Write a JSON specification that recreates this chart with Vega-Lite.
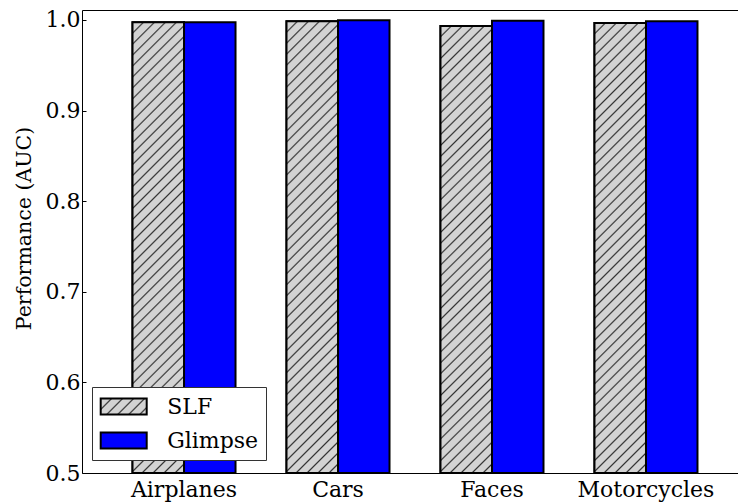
{
  "$schema": "https://vega.github.io/schema/vega-lite/v6.json",
  "autosize": "none",
  "padding": {"left": 82, "top": 10, "right": 0, "bottom": 31},
  "width": 666,
  "height": 463,
  "background": "white",
  "config": {
    "view": {"stroke": "#000", "strokeWidth": 1},
    "font": "DejaVu Serif, serif"
  },
  "params": [
    {"name": "hs", "value": [
      {"offset":0,"color":"#333"},{"offset":0.003,"color":"#d3d3d3"},{"offset":0.017,"color":"#d3d3d3"},
      {"offset":0.02,"color":"#333"},{"offset":0.023,"color":"#d3d3d3"},{"offset":0.037,"color":"#d3d3d3"},
      {"offset":0.04,"color":"#333"},{"offset":0.043,"color":"#d3d3d3"},{"offset":0.057,"color":"#d3d3d3"},
      {"offset":0.06,"color":"#333"},{"offset":0.063,"color":"#d3d3d3"},{"offset":0.077,"color":"#d3d3d3"},
      {"offset":0.08,"color":"#333"},{"offset":0.083,"color":"#d3d3d3"},{"offset":0.097,"color":"#d3d3d3"},
      {"offset":0.10,"color":"#333"},{"offset":0.103,"color":"#d3d3d3"},{"offset":0.117,"color":"#d3d3d3"},
      {"offset":0.12,"color":"#333"},{"offset":0.123,"color":"#d3d3d3"},{"offset":0.137,"color":"#d3d3d3"},
      {"offset":0.14,"color":"#333"},{"offset":0.143,"color":"#d3d3d3"},{"offset":0.157,"color":"#d3d3d3"},
      {"offset":0.16,"color":"#333"},{"offset":0.163,"color":"#d3d3d3"},{"offset":0.177,"color":"#d3d3d3"},
      {"offset":0.18,"color":"#333"},{"offset":0.183,"color":"#d3d3d3"},{"offset":0.197,"color":"#d3d3d3"},
      {"offset":0.20,"color":"#333"},{"offset":0.203,"color":"#d3d3d3"},{"offset":0.217,"color":"#d3d3d3"},
      {"offset":0.22,"color":"#333"},{"offset":0.223,"color":"#d3d3d3"},{"offset":0.237,"color":"#d3d3d3"},
      {"offset":0.24,"color":"#333"},{"offset":0.243,"color":"#d3d3d3"},{"offset":0.257,"color":"#d3d3d3"},
      {"offset":0.26,"color":"#333"},{"offset":0.263,"color":"#d3d3d3"},{"offset":0.277,"color":"#d3d3d3"},
      {"offset":0.28,"color":"#333"},{"offset":0.283,"color":"#d3d3d3"},{"offset":0.297,"color":"#d3d3d3"},
      {"offset":0.30,"color":"#333"},{"offset":0.303,"color":"#d3d3d3"},{"offset":0.317,"color":"#d3d3d3"},
      {"offset":0.32,"color":"#333"},{"offset":0.323,"color":"#d3d3d3"},{"offset":0.337,"color":"#d3d3d3"},
      {"offset":0.34,"color":"#333"},{"offset":0.343,"color":"#d3d3d3"},{"offset":0.357,"color":"#d3d3d3"},
      {"offset":0.36,"color":"#333"},{"offset":0.363,"color":"#d3d3d3"},{"offset":0.377,"color":"#d3d3d3"},
      {"offset":0.38,"color":"#333"},{"offset":0.383,"color":"#d3d3d3"},{"offset":0.397,"color":"#d3d3d3"},
      {"offset":0.40,"color":"#333"},{"offset":0.403,"color":"#d3d3d3"},{"offset":0.417,"color":"#d3d3d3"},
      {"offset":0.42,"color":"#333"},{"offset":0.423,"color":"#d3d3d3"},{"offset":0.437,"color":"#d3d3d3"},
      {"offset":0.44,"color":"#333"},{"offset":0.443,"color":"#d3d3d3"},{"offset":0.457,"color":"#d3d3d3"},
      {"offset":0.46,"color":"#333"},{"offset":0.463,"color":"#d3d3d3"},{"offset":0.477,"color":"#d3d3d3"},
      {"offset":0.48,"color":"#333"},{"offset":0.483,"color":"#d3d3d3"},{"offset":0.497,"color":"#d3d3d3"},
      {"offset":0.50,"color":"#333"},{"offset":0.503,"color":"#d3d3d3"},{"offset":0.517,"color":"#d3d3d3"},
      {"offset":0.52,"color":"#333"},{"offset":0.523,"color":"#d3d3d3"},{"offset":0.537,"color":"#d3d3d3"},
      {"offset":0.54,"color":"#333"},{"offset":0.543,"color":"#d3d3d3"},{"offset":0.557,"color":"#d3d3d3"},
      {"offset":0.56,"color":"#333"},{"offset":0.563,"color":"#d3d3d3"},{"offset":0.577,"color":"#d3d3d3"},
      {"offset":0.58,"color":"#333"},{"offset":0.583,"color":"#d3d3d3"},{"offset":0.597,"color":"#d3d3d3"},
      {"offset":0.60,"color":"#333"},{"offset":0.603,"color":"#d3d3d3"},{"offset":0.617,"color":"#d3d3d3"},
      {"offset":0.62,"color":"#333"},{"offset":0.623,"color":"#d3d3d3"},{"offset":0.637,"color":"#d3d3d3"},
      {"offset":0.64,"color":"#333"},{"offset":0.643,"color":"#d3d3d3"},{"offset":0.657,"color":"#d3d3d3"},
      {"offset":0.66,"color":"#333"},{"offset":0.663,"color":"#d3d3d3"},{"offset":0.677,"color":"#d3d3d3"},
      {"offset":0.68,"color":"#333"},{"offset":0.683,"color":"#d3d3d3"},{"offset":0.697,"color":"#d3d3d3"},
      {"offset":0.70,"color":"#333"},{"offset":0.703,"color":"#d3d3d3"},{"offset":0.717,"color":"#d3d3d3"},
      {"offset":0.72,"color":"#333"},{"offset":0.723,"color":"#d3d3d3"},{"offset":0.737,"color":"#d3d3d3"},
      {"offset":0.74,"color":"#333"},{"offset":0.743,"color":"#d3d3d3"},{"offset":0.757,"color":"#d3d3d3"},
      {"offset":0.76,"color":"#333"},{"offset":0.763,"color":"#d3d3d3"},{"offset":0.777,"color":"#d3d3d3"},
      {"offset":0.78,"color":"#333"},{"offset":0.783,"color":"#d3d3d3"},{"offset":0.797,"color":"#d3d3d3"},
      {"offset":0.80,"color":"#333"},{"offset":0.803,"color":"#d3d3d3"},{"offset":0.817,"color":"#d3d3d3"},
      {"offset":0.82,"color":"#333"},{"offset":0.823,"color":"#d3d3d3"},{"offset":0.837,"color":"#d3d3d3"},
      {"offset":0.84,"color":"#333"},{"offset":0.843,"color":"#d3d3d3"},{"offset":0.857,"color":"#d3d3d3"},
      {"offset":0.86,"color":"#333"},{"offset":0.863,"color":"#d3d3d3"},{"offset":0.877,"color":"#d3d3d3"},
      {"offset":0.88,"color":"#333"},{"offset":0.883,"color":"#d3d3d3"},{"offset":0.897,"color":"#d3d3d3"},
      {"offset":0.90,"color":"#333"},{"offset":0.903,"color":"#d3d3d3"},{"offset":0.917,"color":"#d3d3d3"},
      {"offset":0.92,"color":"#333"},{"offset":0.923,"color":"#d3d3d3"},{"offset":1,"color":"#d3d3d3"}
    ]}
  ],
  "data": {"values": [
    {"cat": "Airplanes", "method": "SLF", "auc": 0.9975, "lo": 0.9975, "hi": 0.9975},
    {"cat": "Airplanes", "method": "Glimpse", "auc": 0.9975, "lo": 0.9975, "hi": 0.9975},
    {"cat": "Cars", "method": "SLF", "auc": 0.9986, "lo": 0.9986, "hi": 0.9986},
    {"cat": "Cars", "method": "Glimpse", "auc": 0.9997, "lo": 0.9997, "hi": 0.9997},
    {"cat": "Faces", "method": "SLF", "auc": 0.9934, "lo": 0.9928, "hi": 0.9942},
    {"cat": "Faces", "method": "Glimpse", "auc": 0.9992, "lo": 0.9992, "hi": 0.9992},
    {"cat": "Motorcycles", "method": "SLF", "auc": 0.9967, "lo": 0.9962, "hi": 0.9974},
    {"cat": "Motorcycles", "method": "Glimpse", "auc": 0.9986, "lo": 0.9986, "hi": 0.9986}
  ]},
  "encoding": {
    "x": {
      "field": "cat", "type": "nominal",
      "sort": ["Airplanes", "Cars", "Faces", "Motorcycles"],
      "scale": {"paddingInner": 0.331, "paddingOuter": 0.328},
      "axis": {
        "title": null, "labelAngle": 0, "domain": false, "grid": false,
        "tickSize": -4, "tickColor": "#000", "tickWidth": 1,
        "labelFont": "DejaVu Serif, serif", "labelFontSize": 22, "labelColor": "#000",
        "labelPadding": 10
      }
    },
    "xOffset": {
      "field": "method", "type": "nominal", "sort": ["SLF", "Glimpse"],
      "scale": {"paddingInner": 0, "paddingOuter": 0}
    }
  },
  "layer": [
    {
      "mark": {"type": "bar", "stroke": "#000", "strokeWidth": 2},
      "encoding": {
        "y": {
          "field": "auc", "type": "quantitative",
          "scale": {"domain": [0.5, 1.011], "zero": false, "nice": false},
          "axis": {
            "values": [0.5, 0.6, 0.7, 0.8, 0.9, 1.0], "format": ".1f",
            "domain": false, "grid": false,
            "tickSize": -4, "tickColor": "#000", "tickWidth": 1,
            "labelFont": "DejaVu Serif, serif", "labelFontSize": 22, "labelColor": "#000",
            "labelPadding": 6,
            "title": "Performance (AUC)", "titleFont": "DejaVu Serif, serif",
            "titleFontSize": 20.5, "titleFontWeight": "normal", "titleColor": "#000",
            "titlePadding": 11, "titleY": 218
          }
        },
        "y2": {"datum": 0.5},
        "fill": {
          "field": "method", "type": "nominal",
          "scale": {"domain": ["SLF", "Glimpse"], "range": [
            {"expr": "{gradient: 'linear', x1: 0, y1: 0, x2: 10.67, y2: 3.71, stops: hs}"},
            "#0000ff"
          ]},
          "legend": {
            "title": null, "orient": "none", "legendX": 10, "legendY": 377,
            "symbolType": "M-2,-0.7H2V0.7H-2Z", "symbolSize": 529,
            "symbolStrokeColor": "#000", "symbolStrokeWidth": 2,
            "symbolOffset": 12.2,
            "labelFont": "DejaVu Serif, serif", "labelFontSize": 22, "labelColor": "#000",
            "labelOffset": 31, "rowPadding": 9, "padding": 7,
            "strokeColor": "#333", "fillColor": "#fff", "cornerRadius": 0
          }
        }
      }
    },
    {
      "transform": [{"filter": "datum.method === 'SLF'"}],
      "mark": {
        "type": "bar", "stroke": "#000", "strokeWidth": 2,
        "fill": {"expr": "{gradient: 'linear', x1: 0, y1: 0, x2: 0.137, y2: 1.2, stops: hs}"}
      },
      "encoding": {
        "y": {"field": "auc", "type": "quantitative"},
        "y2": {"datum": 0.5}
      }
    },
    {
      "mark": {"type": "rule", "stroke": "#000", "strokeWidth": 1.5},
      "encoding": {
        "y": {"field": "lo", "type": "quantitative"},
        "y2": {"field": "hi"}
      }
    }
  ]
}
